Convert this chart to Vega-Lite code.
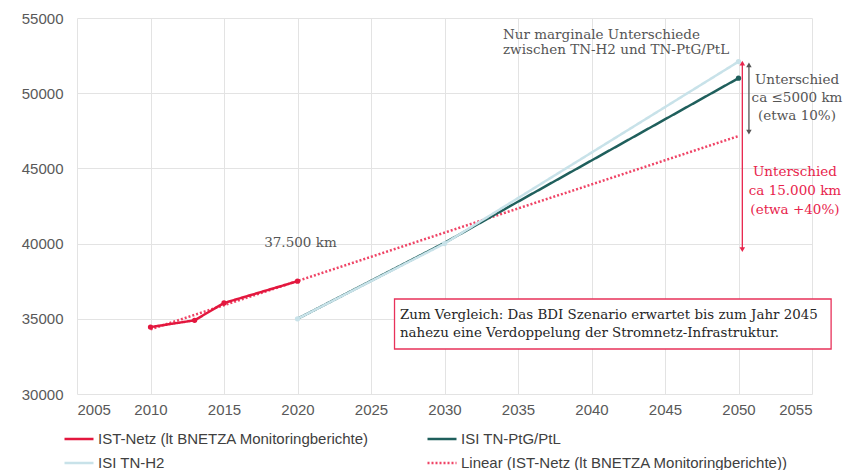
{
  "$schema": "https://vega.github.io/schema/vega-lite/v6.json",
  "width": 735,
  "height": 376,
  "autosize": "none",
  "padding": {"left": 77, "top": 18, "right": 36, "bottom": 76},
  "background": "white",
  "config": {
    "view": {"stroke": null},
    "axis": {"grid": true, "gridColor": "#e3e3e3", "domain": false, "ticks": false, "labelFont": "Liberation Sans", "labelFontSize": 15, "labelColor": "#595959", "title": null}
  },
  "datasets": {
    "series": [
      {"series": "Linear (IST-Netz (lt BNETZA Monitoringberichte))", "year": 2010, "value": 34300},
      {"series": "Linear (IST-Netz (lt BNETZA Monitoringberichte))", "year": 2050, "value": 47150},
      {"series": "ISI TN-PtG/PtL", "year": 2020, "value": 35000},
      {"series": "ISI TN-PtG/PtL", "year": 2030, "value": 40050},
      {"series": "ISI TN-PtG/PtL", "year": 2050, "value": 51000},
      {"series": "ISI TN-H2", "year": 2020, "value": 35000},
      {"series": "ISI TN-H2", "year": 2030, "value": 40000},
      {"series": "ISI TN-H2", "year": 2050, "value": 52100},
      {"series": "IST-Netz (lt BNETZA Monitoringberichte)", "year": 2010, "value": 34450},
      {"series": "IST-Netz (lt BNETZA Monitoringberichte)", "year": 2013, "value": 34900},
      {"series": "IST-Netz (lt BNETZA Monitoringberichte)", "year": 2015, "value": 36050},
      {"series": "IST-Netz (lt BNETZA Monitoringberichte)", "year": 2020, "value": 37500}
    ],
    "markers": [
      {"series": "ISI TN-H2", "year": 2020, "value": 35000},
      {"series": "ISI TN-H2", "year": 2030, "value": 40000},
      {"series": "ISI TN-H2", "year": 2050, "value": 52100},
      {"series": "ISI TN-PtG/PtL", "year": 2050, "value": 51000},
      {"series": "IST-Netz (lt BNETZA Monitoringberichte)", "year": 2010, "value": 34450},
      {"series": "IST-Netz (lt BNETZA Monitoringberichte)", "year": 2013, "value": 34900},
      {"series": "IST-Netz (lt BNETZA Monitoringberichte)", "year": 2015, "value": 36050},
      {"series": "IST-Netz (lt BNETZA Monitoringberichte)", "year": 2020, "value": 37500}
    ],
    "arrows": [
      {"kind": "red", "x": 2050.26, "top": 52000, "bottom": 39600},
      {"kind": "gray", "x": 2050.71, "top": 51880, "bottom": 47420}
    ],
    "notes": [
      {"kind": "gray", "x": 2020.2, "y": 40040, "text": "37.500 km", "align": "center", "lh": 15},
      {"kind": "gray", "x": 2033.98, "y": 53870, "text": "Nur marginale Unterschiede\nzwischen TN-H2 und TN-PtG/PtL", "align": "left", "lh": 15},
      {"kind": "gray", "x": 2053.98, "y": 50878, "text": "Unterschied\nca ≤5000 km\n(etwa 10%)", "align": "center", "lh": 18},
      {"kind": "red", "x": 2053.84, "y": 44761, "text": "Unterschied\nca  15.000 km\n(etwa +40%)", "align": "center", "lh": 19}
    ],
    "box": [
      {"x": 2026.6, "x2": 2056.3, "y": 32992, "y2": 36316, "tx": 2026.97, "ty": 35253, "text": "Zum Vergleich: Das BDI Szenario erwartet bis zum Jahr 2045\nnahezu eine Verdoppelung der Stromnetz-Infrastruktur."}
    ]
  },
  "encoding": {
    "x": {"field": "year", "type": "quantitative", "scale": {"domain": [2005, 2055], "nice": false}, "axis": {"values": [2005, 2010, 2015, 2020, 2025, 2030, 2035, 2040, 2045, 2050, 2055], "format": "d", "labelPadding": 8}},
    "y": {"field": "value", "type": "quantitative", "scale": {"domain": [30000, 55000], "nice": false, "zero": false}, "axis": {"values": [30000, 35000, 40000, 45000, 50000, 55000], "format": "d", "labelPadding": 14}}
  },
  "layer": [
    {
      "data": {"name": "series"},
      "encoding": {
        "color": {
          "field": "series", "type": "nominal",
          "scale": {
            "domain": ["IST-Netz (lt BNETZA Monitoringberichte)", "ISI TN-H2", "ISI TN-PtG/PtL", "Linear (IST-Netz (lt BNETZA Monitoringberichte))"],
            "range": ["#e3173e", "#c8e2e9", "#1f5f5c", "#ef4466"]
          },
          "legend": {
            "orient": "none", "legendX": -14, "legendY": 405, "columns": 2, "columnPadding": 53, "rowPadding": -7,
            "title": null, "symbolType": "stroke", "symbolSize": 841, "symbolStrokeWidth": 2.5,
            "labelFont": "Liberation Sans", "labelFontSize": 15, "labelColor": "#404040", "labelLimit": 400, "labelOffset": 3
          }
        },
        "strokeDash": {
          "field": "series", "type": "nominal",
          "scale": {
            "domain": ["IST-Netz (lt BNETZA Monitoringberichte)", "ISI TN-H2", "ISI TN-PtG/PtL", "Linear (IST-Netz (lt BNETZA Monitoringberichte))"],
            "range": [[1, 0], [1, 0], [1, 0], [2, 2]]
          },
          "legend": null
        },
        "strokeWidth": {
          "field": "series", "type": "nominal",
          "scale": {
            "domain": ["IST-Netz (lt BNETZA Monitoringberichte)", "ISI TN-H2", "ISI TN-PtG/PtL", "Linear (IST-Netz (lt BNETZA Monitoringberichte))"],
            "range": [2.5, 2.5, 2.5, 1.8]
          },
          "legend": null
        }
      },
      "layer": [
        {"transform": [{"filter": "datum.series == 'Linear (IST-Netz (lt BNETZA Monitoringberichte))'"}], "mark": {"type": "line", "clip": false}},
        {"transform": [{"filter": "datum.series == 'ISI TN-PtG/PtL'"}], "mark": {"type": "line", "clip": false}},
        {"transform": [{"filter": "datum.series == 'ISI TN-H2'"}], "mark": {"type": "line", "clip": false}},
        {"transform": [{"filter": "datum.series == 'IST-Netz (lt BNETZA Monitoringberichte)'"}], "mark": {"type": "line", "clip": false}}
      ]
    },
    {
      "data": {"name": "markers"},
      "mark": {"type": "point", "filled": true, "size": 28, "opacity": 1, "clip": false},
      "encoding": {
        "color": {"field": "series", "type": "nominal"}
      }
    },
    {
      "data": {"name": "arrows"},
      "mark": {"type": "rule", "strokeWidth": 1.3},
      "encoding": {
        "x": {"field": "x", "type": "quantitative"},
        "y": {"field": "top", "type": "quantitative"},
        "y2": {"field": "bottom"},
        "stroke": {"field": "kind", "type": "nominal", "scale": {"domain": ["red", "gray"], "range": ["#e8244c", "#555555"]}, "legend": null}
      }
    },
    {
      "data": {"name": "arrows"},
      "mark": {"type": "point", "shape": "triangle-up", "filled": true, "size": 30, "opacity": 1},
      "encoding": {
        "x": {"field": "x", "type": "quantitative"},
        "y": {"field": "top", "type": "quantitative"},
        "fill": {"field": "kind", "type": "nominal", "scale": {"domain": ["red", "gray"], "range": ["#e8244c", "#555555"]}, "legend": null}
      }
    },
    {
      "data": {"name": "arrows"},
      "mark": {"type": "point", "shape": "triangle-down", "filled": true, "size": 30, "opacity": 1},
      "encoding": {
        "x": {"field": "x", "type": "quantitative"},
        "y": {"field": "bottom", "type": "quantitative"},
        "fill": {"field": "kind", "type": "nominal", "scale": {"domain": ["red", "gray"], "range": ["#e8244c", "#555555"]}, "legend": null}
      }
    },
    {
      "data": {"name": "notes"},
      "encoding": {
        "x": {"field": "x", "type": "quantitative"},
        "y": {"field": "y", "type": "quantitative"},
        "text": {"field": "text"},
        "fill": {"field": "kind", "type": "nominal", "scale": {"domain": ["red", "gray"], "range": ["#e8325a", "#5a5a5a"]}, "legend": null}
      },
      "layer": [
        {"transform": [{"filter": "datum.align == 'left'"}],
         "mark": {"type": "text", "font": "DejaVu Serif", "fontSize": 13.5, "align": "left", "baseline": "middle", "lineBreak": "\n", "lineHeight": 15}},
        {"transform": [{"filter": "datum.align == 'center' && datum.lh == 15"}],
         "mark": {"type": "text", "font": "DejaVu Serif", "fontSize": 13.5, "align": "center", "baseline": "middle", "lineBreak": "\n", "lineHeight": 15}},
        {"transform": [{"filter": "datum.lh == 18"}],
         "mark": {"type": "text", "font": "DejaVu Serif", "fontSize": 13.5, "align": "center", "baseline": "middle", "lineBreak": "\n", "lineHeight": 18}},
        {"transform": [{"filter": "datum.lh == 19"}],
         "mark": {"type": "text", "font": "DejaVu Serif", "fontSize": 13.5, "align": "center", "baseline": "middle", "lineBreak": "\n", "lineHeight": 19}}
      ]
    },
    {
      "data": {"name": "box"},
      "mark": {"type": "rect", "fill": "white", "stroke": "#e8325a", "strokeWidth": 1.3, "clip": false},
      "encoding": {
        "x": {"field": "x", "type": "quantitative"},
        "x2": {"field": "x2"},
        "y": {"field": "y", "type": "quantitative"},
        "y2": {"field": "y2"}
      }
    },
    {
      "data": {"name": "box"},
      "mark": {"type": "text", "font": "DejaVu Serif", "fontSize": 13.4, "align": "left", "baseline": "middle", "lineBreak": "\n", "lineHeight": 18, "color": "#262626"},
      "encoding": {
        "x": {"field": "tx", "type": "quantitative"},
        "y": {"field": "ty", "type": "quantitative"},
        "text": {"field": "text"}
      }
    }
  ]
}
